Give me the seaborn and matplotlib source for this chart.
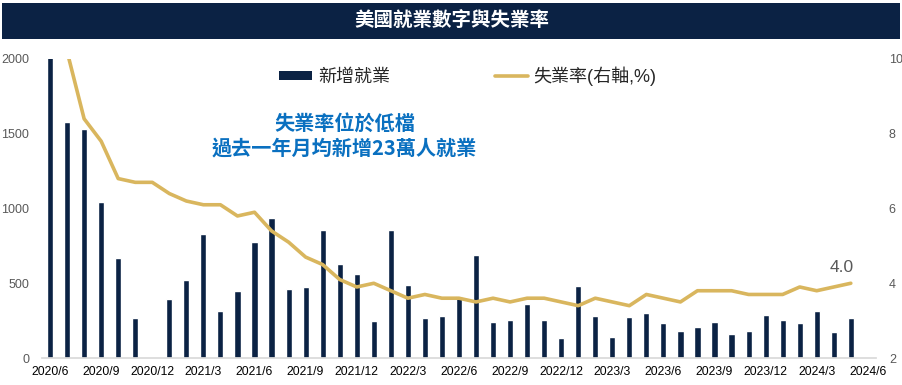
import numpy as np
import pandas as pd
import matplotlib
matplotlib.use('Agg')
import matplotlib.pyplot as plt
import seaborn as sns
from matplotlib.patches import Patch, Rectangle
from matplotlib.lines import Line2D

# monthly data, 2020/6 .. 2024/5 (axis runs to 2024/6)
months = pd.period_range('2020-06', '2024-06', freq='M')
month_labels = [f'{p.year}/{p.month}' for p in months]

# new nonfarm payrolls (thousands); first bar runs off the chart
jobs = [4800, 1580, 1533, 1044, 668, 266, -270, 393, 521, 829, 313, 447,
        775, 936, 460, 474, 856, 628, 561, 246, 856, 487, 266, 279,
        413, 688, 239, 253, 360, 253, 132, 480, 279, 139, 273, 299,
        232, 179, 206, 239, 159, 179, 286, 253, 232, 313, 172, 266]

# unemployment rate (%), right axis
unemp = [11.1, 10.2, 8.4, 7.8, 6.8, 6.7, 6.7, 6.4, 6.2, 6.1, 6.1, 5.8,
         5.9, 5.4, 5.1, 4.7, 4.5, 4.1, 3.9, 4.0, 3.8, 3.6, 3.7, 3.6,
         3.6, 3.5, 3.6, 3.5, 3.6, 3.6, 3.5, 3.4, 3.6, 3.5, 3.4, 3.7,
         3.6, 3.5, 3.8, 3.8, 3.8, 3.7, 3.7, 3.7, 3.9, 3.8, 3.9, 4.0]

navy = '#0B2244'
gold = '#D9B65E'
blue = '#0A70C0'
grey = '#595959'

sns.set_theme(style='white')
plt.rcParams['font.family'] = ['Liberation Sans', 'Noto Sans CJK TC', 'DejaVu Sans']

df = pd.DataFrame({'idx': np.arange(len(jobs)), 'jobs': jobs, 'unemp': unemp})

fig = plt.figure(figsize=(9.03, 3.85), dpi=100)
ax = fig.add_axes([0.046, 0.0701, 0.9245, 0.7767])

sns.barplot(data=df, x='idx', y='jobs', native_scale=True, width=0.36,
            color=navy, saturation=1, ax=ax)
ax.set_ylim(0, 2000)
ax.set_xlim(-0.5, len(months) - 0.5)
ax.set_yticks([0, 500, 1000, 1500, 2000])
tick_pos = list(range(0, len(months), 3))
ax.set_xticks(tick_pos)
ax.set_xticklabels([month_labels[i] for i in tick_pos], fontsize=8.7, color='black')
ax.tick_params(axis='y', labelsize=9, labelcolor=grey, length=0, pad=9)
ax.tick_params(axis='x', length=0, pad=6)
ax.set_xlabel('')
ax.set_ylabel('')
for s in ['top', 'left', 'right']:
    ax.spines[s].set_visible(False)
ax.spines['bottom'].set_color('#D9D9D9')

ax2 = ax.twinx()
sns.lineplot(data=df, x='idx', y='unemp', color=gold, linewidth=2.6, ax=ax2)
ax2.set_ylim(2, 10)
ax2.set_yticks([2, 4, 6, 8, 10])
ax2.tick_params(axis='y', labelsize=9, labelcolor=grey, length=0, pad=9)
ax2.set_ylabel('')
for s in ['top', 'left', 'right', 'bottom']:
    ax2.spines[s].set_visible(False)

# last value label
ax2.annotate(f'{unemp[-1]:.1f}', xy=(len(unemp) - 1, unemp[-1]), xytext=(-6.5, 6),
             textcoords='offset points', ha='center', va='bottom',
             fontsize=12.5, color=grey)

# commentary
ax.text(0.363, 0.744, '失業率位於低檔\n過去一年月均新增23萬人就業', transform=ax.transAxes,
        ha='center', va='center', fontsize=14.5, fontweight='bold', color=blue,
        family=['Noto Sans CJK TC'], linespacing=1.2)

# legend
handles = [Patch(facecolor=navy, edgecolor='none', label='新增就業'),
           Line2D([0], [0], color=gold, linewidth=2.6, label='失業率(右軸,%)')]
fig.legend(handles=handles, loc='center left', bbox_to_anchor=(0.291, 0.8026),
           ncol=2, frameon=False, fontsize=13, handlelength=1.85, handleheight=0.4,
           handletextpad=0.3, columnspacing=5.8, labelcolor='#262626')

# title banner
fig.patches.append(Rectangle((2 / 903, 1 - 39 / 385), 898 / 903, 36 / 385,
                             transform=fig.transFigure, facecolor=navy,
                             edgecolor='none', zorder=0))
fig.text(0.5, 1 - 21 / 385, '美國就業數字與失業率', ha='center', va='center',
         fontsize=14, fontweight='bold', color='white', family=['Noto Sans CJK TC'])

fig.savefig('out.png', dpi=100)
